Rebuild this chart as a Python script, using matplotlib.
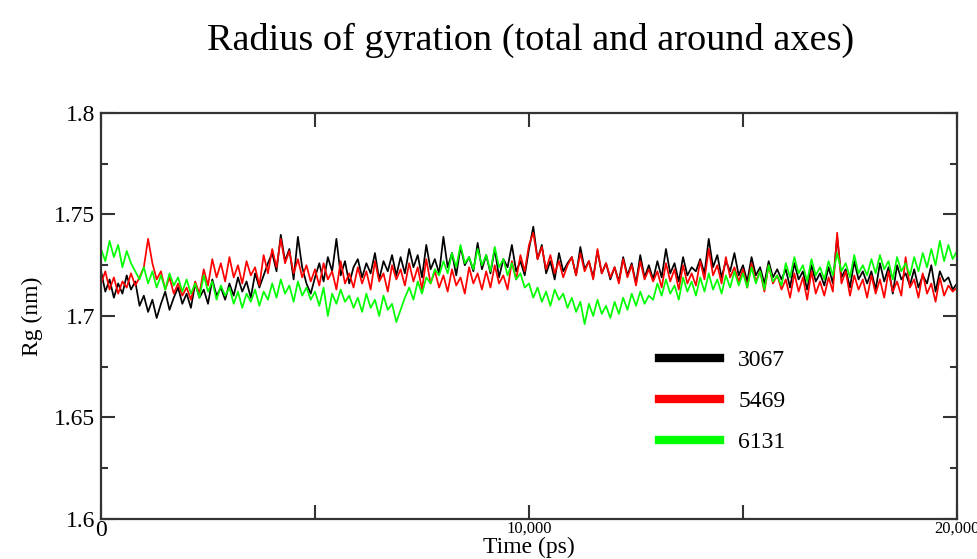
import numpy as np
import matplotlib; matplotlib.use("Agg")
import matplotlib.pyplot as plt
from matplotlib.ticker import MultipleLocator, FixedLocator

plt.rcParams["font.family"] = ["Liberation Serif", "DejaVu Serif"]

# ─── Rg traces, one sample every 100 ps ──────────────────────────────────────
time_ps = np.arange(0, 20001, 100)

rg_3067 = [
    1.722, 1.712, 1.718, 1.709, 1.716, 1.711, 1.720, 1.713, 1.717, 1.705,
    1.710, 1.702, 1.708, 1.699, 1.706, 1.712, 1.703, 1.709, 1.714, 1.706,
    1.711, 1.704, 1.716, 1.709, 1.713, 1.706, 1.718, 1.710, 1.714, 1.708,
    1.716, 1.710, 1.719, 1.712, 1.717, 1.709, 1.721, 1.714, 1.720, 1.726,
    1.731, 1.722, 1.740, 1.727, 1.733, 1.718, 1.739, 1.724, 1.716, 1.711,
    1.719, 1.726, 1.717, 1.729, 1.722, 1.738, 1.720, 1.727, 1.716, 1.724,
    1.728, 1.719, 1.726, 1.721, 1.731, 1.718, 1.727, 1.722, 1.730, 1.720,
    1.729, 1.721, 1.733, 1.724, 1.730, 1.719, 1.735, 1.723, 1.728, 1.721,
    1.739, 1.724, 1.731, 1.720, 1.734, 1.725, 1.729, 1.722, 1.736, 1.723,
    1.730, 1.721, 1.733, 1.719, 1.728, 1.724, 1.735, 1.722, 1.727, 1.720,
    1.733, 1.744, 1.728, 1.735, 1.721, 1.727, 1.718, 1.731, 1.722, 1.726,
    1.729, 1.720, 1.734, 1.723, 1.727, 1.719, 1.732, 1.721, 1.726, 1.718,
    1.724, 1.717, 1.729, 1.720, 1.726, 1.716, 1.730, 1.719, 1.725, 1.718,
    1.727, 1.719, 1.733, 1.721, 1.726, 1.717, 1.729, 1.720, 1.724, 1.722,
    1.728, 1.721, 1.738, 1.724, 1.730, 1.719, 1.727, 1.722, 1.731, 1.720,
    1.725, 1.717, 1.729, 1.720, 1.724, 1.716, 1.727, 1.719, 1.723, 1.718,
    1.723, 1.714, 1.726, 1.718, 1.722, 1.713, 1.725, 1.717, 1.721, 1.715,
    1.724, 1.716, 1.739, 1.719, 1.723, 1.714, 1.727, 1.718, 1.722, 1.716,
    1.722, 1.713, 1.726, 1.717, 1.724, 1.711, 1.725, 1.718, 1.721, 1.715,
    1.723, 1.714, 1.720, 1.716, 1.725, 1.712, 1.722, 1.717, 1.719, 1.713,
    1.716,
]

rg_5469 = [
    1.716, 1.722, 1.713, 1.719, 1.711, 1.717, 1.714, 1.721, 1.715, 1.719,
    1.724, 1.738, 1.726, 1.718, 1.722, 1.713, 1.719, 1.711, 1.716, 1.710,
    1.714, 1.708, 1.717, 1.711, 1.723, 1.715, 1.728, 1.719, 1.726, 1.717,
    1.729, 1.719, 1.725, 1.716, 1.727, 1.720, 1.724, 1.715, 1.730, 1.721,
    1.733, 1.724, 1.738, 1.726, 1.732, 1.721, 1.728, 1.719, 1.725, 1.717,
    1.723, 1.715, 1.726, 1.718, 1.722, 1.713, 1.727, 1.716, 1.721, 1.714,
    1.724, 1.716, 1.722, 1.713, 1.727, 1.717, 1.721, 1.712, 1.725, 1.718,
    1.723, 1.715, 1.726, 1.717, 1.724, 1.713, 1.728, 1.716, 1.722, 1.714,
    1.720, 1.712, 1.723, 1.715, 1.719, 1.711, 1.724, 1.716, 1.721, 1.713,
    1.722, 1.714, 1.725, 1.716, 1.720, 1.713, 1.727, 1.718, 1.730, 1.722,
    1.735, 1.741, 1.728, 1.734, 1.723, 1.730, 1.721, 1.727, 1.719, 1.725,
    1.729, 1.720, 1.731, 1.722, 1.727, 1.718, 1.733, 1.721, 1.726, 1.719,
    1.724, 1.716, 1.728, 1.719, 1.725, 1.715, 1.727, 1.718, 1.723, 1.717,
    1.722, 1.714, 1.726, 1.717, 1.723, 1.713, 1.725, 1.716, 1.721, 1.715,
    1.727, 1.718, 1.733, 1.720, 1.725, 1.716, 1.729, 1.719, 1.724, 1.717,
    1.723, 1.714, 1.726, 1.717, 1.722, 1.712, 1.725, 1.716, 1.720, 1.713,
    1.718, 1.709, 1.721, 1.712, 1.719, 1.708, 1.722, 1.711, 1.717, 1.710,
    1.719, 1.712, 1.741, 1.716, 1.722, 1.710, 1.720, 1.713, 1.718, 1.709,
    1.720, 1.711, 1.718, 1.709, 1.722, 1.712, 1.717, 1.710, 1.729, 1.714,
    1.718, 1.709, 1.721, 1.711, 1.716, 1.707, 1.719, 1.710, 1.715, 1.712,
    1.714,
]

rg_6131 = [
    1.733, 1.727, 1.737, 1.729, 1.735, 1.724, 1.732, 1.726, 1.722, 1.718,
    1.724, 1.716, 1.722, 1.714, 1.720, 1.713, 1.721, 1.715, 1.719, 1.712,
    1.718, 1.711, 1.716, 1.709, 1.720, 1.712, 1.717, 1.708, 1.715, 1.710,
    1.714, 1.706, 1.712, 1.704, 1.711, 1.707, 1.713, 1.705, 1.712, 1.708,
    1.716, 1.709, 1.718, 1.711, 1.715, 1.707, 1.717, 1.710, 1.714, 1.708,
    1.712, 1.705, 1.714, 1.700, 1.711, 1.706, 1.713, 1.707, 1.710, 1.704,
    1.709, 1.702, 1.711, 1.704, 1.708, 1.700, 1.710, 1.703, 1.706, 1.697,
    1.703, 1.709, 1.714, 1.708, 1.717, 1.711, 1.719, 1.716, 1.723, 1.720,
    1.727, 1.721, 1.731, 1.724, 1.735, 1.726, 1.729, 1.723, 1.733, 1.725,
    1.730, 1.722, 1.734, 1.724, 1.728, 1.720, 1.726, 1.718, 1.721, 1.714,
    1.716, 1.709, 1.714, 1.707, 1.712, 1.705, 1.713, 1.708, 1.711, 1.704,
    1.709, 1.702, 1.707, 1.696, 1.706, 1.700, 1.708, 1.701, 1.705, 1.699,
    1.707, 1.701, 1.709, 1.703, 1.711, 1.705, 1.712, 1.706, 1.710, 1.708,
    1.716, 1.710, 1.718, 1.711, 1.715, 1.708, 1.719, 1.712, 1.717, 1.710,
    1.719, 1.712, 1.721, 1.713, 1.718, 1.711, 1.720, 1.714, 1.722, 1.715,
    1.721, 1.714, 1.724, 1.716, 1.722, 1.713, 1.725, 1.717, 1.720, 1.715,
    1.726, 1.719, 1.729, 1.721, 1.725, 1.717, 1.728, 1.720, 1.724, 1.718,
    1.727, 1.720, 1.731, 1.722, 1.726, 1.719, 1.730, 1.721, 1.725, 1.720,
    1.728, 1.721, 1.730, 1.723, 1.727, 1.718, 1.729, 1.722, 1.726, 1.720,
    1.729, 1.722, 1.731, 1.724, 1.733, 1.725, 1.737, 1.727, 1.735, 1.728,
    1.732,
]

series = [("3067", rg_3067, "black"), ("5469", rg_5469, "#ff0000"), ("6131", rg_6131, "#00ff00")]

x_ticks = [0, 5000, 10000, 15000, 20000]
x_labels = ["0", "", "10,000", "", "20,000"]
y_ticks = [1.6, 1.65, 1.7, 1.75, 1.8]
y_labels = ["1.6", "1.65", "1.7", "1.75", "1.8"]

fig = plt.figure(figsize=(9.78, 5.59), dpi=100)
ax = fig.add_axes([0.1033, 0.0716, 0.8752, 0.7263])

for name, vals, col in series:
    ax.plot(time_ps, vals, color=col, lw=1.25, label=name)

ax.set_xlim(0, 20000); ax.set_ylim(1.6, 1.8)
ax.xaxis.set_major_locator(FixedLocator(x_ticks))
ax.set_xticklabels(x_labels)
ax.yaxis.set_major_locator(FixedLocator(y_ticks))
ax.yaxis.set_minor_locator(MultipleLocator(0.025))
ax.set_yticklabels(y_labels)
ax.tick_params(direction="in", top=True, right=True, width=1.5, length=10, color="#333333")
ax.tick_params(which="minor", direction="in", right=True, width=1.5, length=5, color="#333333")
ax.tick_params(axis="y", labelsize=17, pad=4)
ax.tick_params(axis="x", labelsize=12, pad=1)
ax.get_xticklabels()[0].set_fontsize(17)
for s in ax.spines.values():
    s.set_linewidth(1.6); s.set_color("#333333")

ax.set_xlabel("Time (ps)", fontsize=17, labelpad=-3)
ax.set_ylabel("Rg (nm)", fontsize=17, labelpad=8)
fig.text(0.543, 0.928, "Radius of gyration (total and around axes)", fontsize=27.5, ha="center", va="center")

leg = ax.legend(loc="upper left", bbox_to_anchor=(0.652, 0.418), frameon=False, fontsize=17,
                handlelength=2.6, handletextpad=0.75, labelspacing=0.83, borderpad=0, borderaxespad=0)
for h in leg.get_lines():
    h.set_linewidth(6)

plt.savefig("out.png", dpi=100); plt.close()
